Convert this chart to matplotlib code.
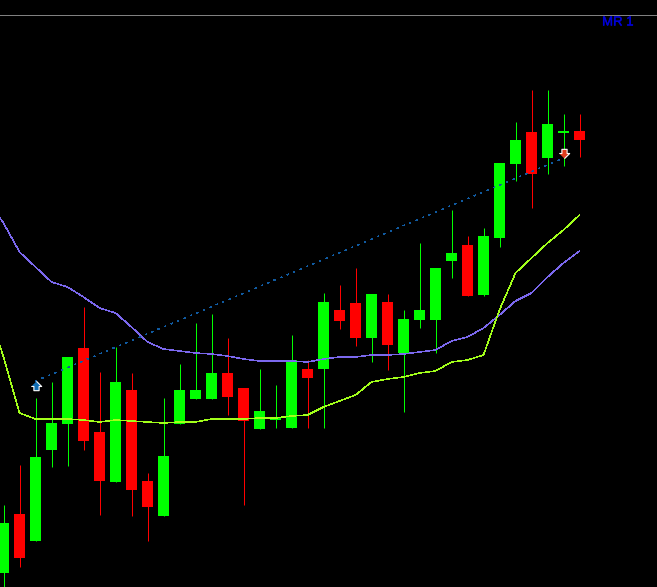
import matplotlib
matplotlib.use("Agg")
import matplotlib.pyplot as plt
import matplotlib.patheffects as pe

# candle readings, chart height units (0 = bottom edge of the window)
opens = [14, 73, 46, 137, 163, 239, 155, 105, 197, 106, 71, 163, 188, 188, 214, 199, 158, 167, 159, 218, 218, 277, 284, 249, 285, 234, 267, 267, 326, 342, 292, 349, 423, 455, 429, 454, 456]
highs = [82, 122, 189, 205, 230, 280, 215, 240, 214, 114, 189, 223, 264, 273, 249, 199, 218, 202, 252, 227, 294, 302, 319, 293, 293, 277, 344, 319, 377, 351, 359, 424, 465, 497, 497, 473, 473]
lows = [0, 20, 46, 120, 121, 137, 72, 105, 71, 46, 71, 163, 188, 188, 172, 82, 158, 159, 159, 159, 159, 258, 241, 225, 217, 175, 259, 234, 309, 291, 291, 340, 406, 379, 413, 421, 430]
closes = [64, 29, 130, 164, 230, 146, 106, 205, 97, 80, 131, 197, 197, 214, 190, 166, 176, 169, 227, 209, 285, 266, 249, 293, 242, 268, 277, 319, 334, 291, 351, 424, 447, 413, 463, 456, 447]

# moving averages, one value per candle
purple_avg = [364, 335, 320, 305, 300, 290, 279, 274, 260, 245, 238, 236, 234, 233, 231, 228, 226, 226, 226, 225, 228, 230, 230, 232, 232, 233, 235, 237, 246, 250, 259, 272, 286, 294, 310, 324, 336]
green_avg = [230, 174, 168, 168, 168, 167, 165, 167, 166, 165, 164, 165, 165, 168, 168, 168, 169, 169, 171, 172, 180, 186, 192, 205, 208, 210, 214, 216, 225, 227, 232, 277, 314, 329, 344, 357, 372]
# both averages run on off the left edge of the window
purple_left = 369
green_left = 241

# arrow trade, candle index and level of the two marks
trade_x = [2, 35]
trade_line = [206, 429]
trade_marks = [201, 434]

up_color = "#00ff00"
down_color = "#ff0000"

fig = plt.figure(figsize=(6.57, 5.87), dpi=100, facecolor="black")
ax = fig.add_axes([0, 0, 1, 1], facecolor="black")
left = -3.5 / 16
ax.set_xlim(left, left + 657 / 16)
ax.set_ylim(0, 587)
ax.axis("off")

for i in range(len(opens)):
    color = up_color if closes[i] >= opens[i] else down_color
    ax.plot([i, i], [lows[i], highs[i]], color=color, linewidth=0.72, solid_capstyle="butt", zorder=2)
    bottom = min(opens[i], closes[i])
    height = abs(closes[i] - opens[i])
    ax.bar(i, height, width=11 / 16, bottom=bottom, color=color, linewidth=0, zorder=3)

candle_x = list(range(len(opens)))
ax.plot([left] + candle_x, [purple_left] + purple_avg, color="#7b68ee", linewidth=0.35, antialiased=False, zorder=4)
ax.plot([left] + candle_x, [green_left] + green_avg, color="#a2ff1a", linewidth=0.35, antialiased=False, zorder=4)
ax.plot(trade_x, trade_line, color="#105aa0", linewidth=0.35, linestyle=(0, (4, 11)), antialiased=False, zorder=4)

up_arrow = [(0, 1), (1, 0), (0.5, 0), (0.5, -0.8), (-0.5, -0.8), (-0.5, 0), (-1, 0)]
down_arrow = [(x, -y) for x, y in up_arrow]
ax.plot(trade_x[0], trade_marks[0], marker=up_arrow, markersize=7.5, color="#0f6db5", markeredgecolor="white", markeredgewidth=0.8, zorder=5)
ax.plot(trade_x[1], trade_marks[1], marker=down_arrow, markersize=7.5, color="#e03c1e", markeredgecolor="white", markeredgewidth=0.8, zorder=5)

ax.axhline(572.5, color="#808080", linewidth=0.72, zorder=1)
fig.text(618 / 657, 1 - 22.5 / 587, "MR 1", color="#0000d8", fontsize=9.5, family="Liberation Sans", ha="center", va="center",
         path_effects=[pe.withStroke(linewidth=0.3, foreground="#0000d8")])

fig.savefig("out.png", dpi=100, facecolor="black")
